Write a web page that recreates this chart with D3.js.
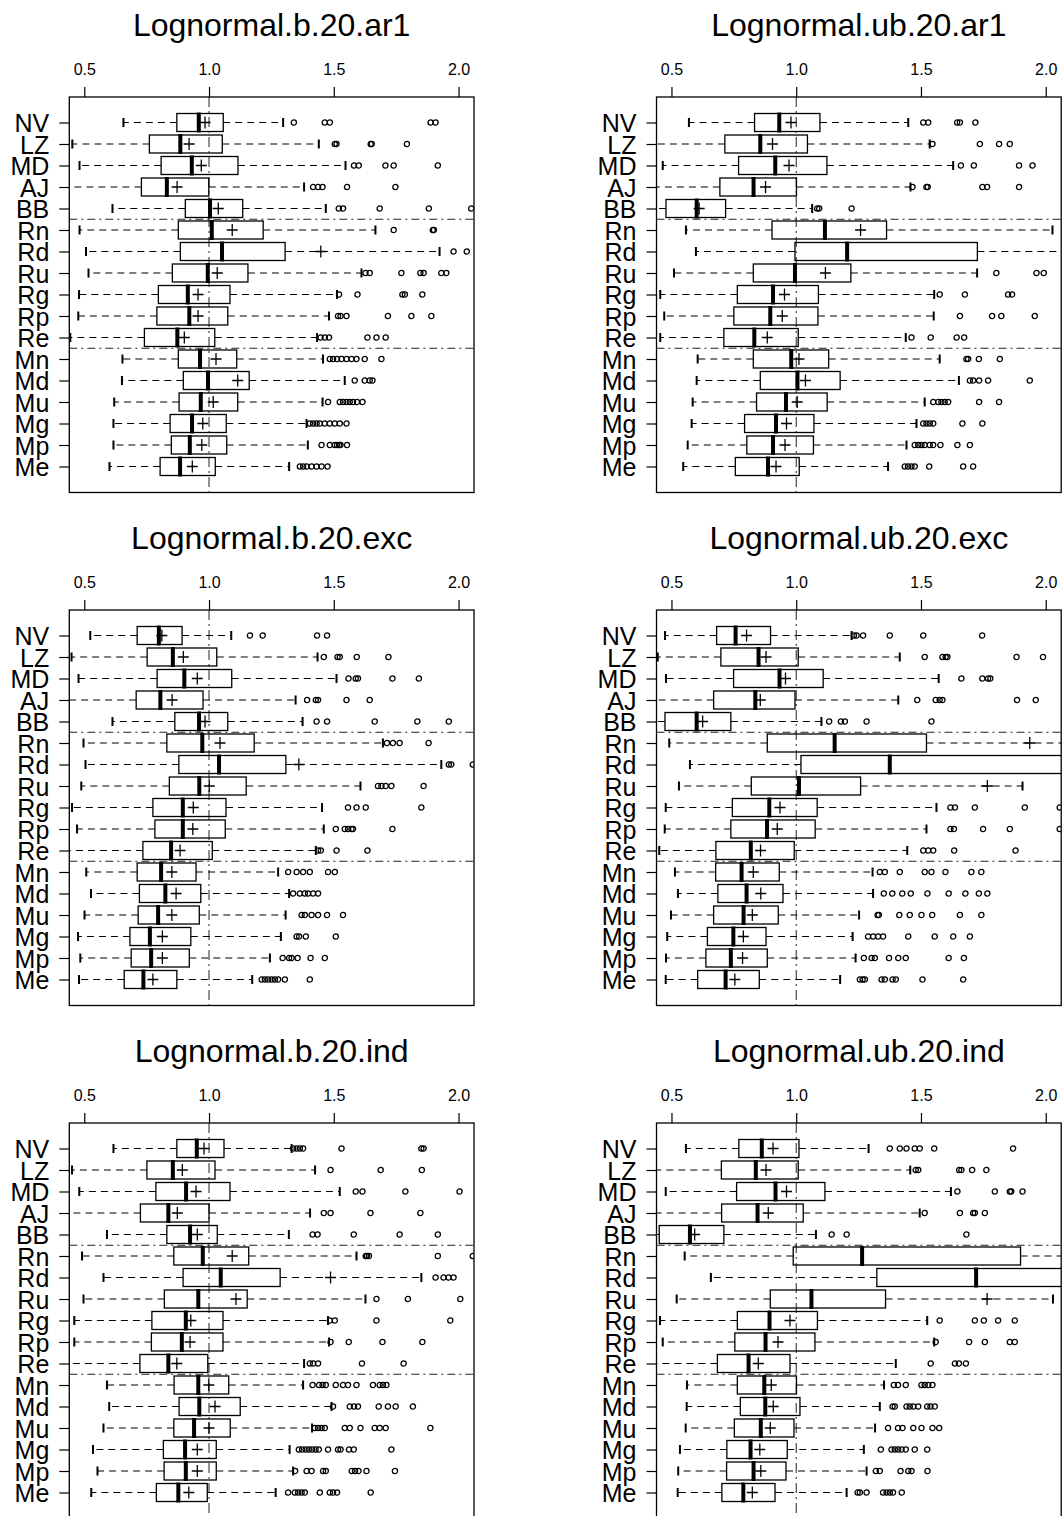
<!DOCTYPE html>
<html>
<head>
<meta charset="utf-8">
<script src="https://cdn.jsdelivr.net/npm/d3@7"></script>
<style>
  body { margin: 0; background: #fff; }
  svg { display: block; }
  text { font-family: "Liberation Sans", Arial, Helvetica, sans-serif; fill: #000; }
</style>
</head>
<body>
<svg id="chart" width="1064" height="1516"></svg>
<script>
// ---- categories and axis ticks ----
const categories = ["NV","LZ","MD","AJ","BB","Rn","Rd","Ru","Rg","Rp","Re","Mn","Md","Mu","Mg","Mp","Me"];
const tickValues = [0.5, 1.0, 1.5, 2.0];
const tickLabels = ["0.5", "1.0", "1.5", "2.0"];
const panelTitles = ["Lognormal.b.20.ar1","Lognormal.ub.20.ar1","Lognormal.b.20.exc","Lognormal.ub.20.exc","Lognormal.b.20.ind","Lognormal.ub.20.ind"];

// ---- Lognormal.b.20.ar1 ----
const bAr1Lower  = [0.657,0.452,0.481,0.43,0.613,0.481,0.507,0.517,0.479,0.476,0.444,0.653,0.651,0.62,0.617,0.617,0.601];
const bAr1Q1     = [0.871,0.761,0.808,0.729,0.905,0.877,0.885,0.853,0.797,0.791,0.741,0.877,0.897,0.88,0.844,0.849,0.804];
const bAr1Median = [0.959,0.885,0.931,0.831,1.004,1.011,1.052,0.995,0.915,0.921,0.873,0.964,0.996,0.967,0.932,0.923,0.884];
const bAr1Q3     = [1.057,1.053,1.116,0.999,1.135,1.217,1.305,1.156,1.084,1.075,1.023,1.111,1.161,1.115,1.069,1.071,1.025];
const bAr1Upper  = [1.297,1.44,1.547,1.381,1.468,1.667,1.924,1.611,1.513,1.481,1.433,1.457,1.544,1.455,1.391,1.396,1.321];
const bAr1Mean   = [0.984,0.92,0.969,0.872,1.037,1.093,1.448,1.033,0.956,0.956,0.901,1.028,1.115,1.017,0.975,0.971,0.933];
const bAr1Outliers = [
  [1.34,1.464,1.484,1.888,1.908],
  [1.504,1.511,1.648,1.652,1.793],
  [1.581,1.6,1.707,1.74,1.917],
  [1.417,1.437,1.455,1.553,1.747],
  [1.52,1.537,1.684,1.881,2.051],
  [1.74,1.897,1.901],
  [1.98,2.033],
  [1.627,1.644,1.771,1.847,1.86,1.931,1.951],
  [1.521,1.595,1.775,1.785,1.855],
  [1.517,1.527,1.551,1.717,1.811,1.891],
  [1.447,1.464,1.481,1.635,1.671,1.708],
  [1.484,1.497,1.513,1.531,1.551,1.571,1.591,1.624,1.691],
  [1.584,1.624,1.644,1.655],
  [1.477,1.524,1.537,1.551,1.564,1.577,1.593,1.615],
  [1.404,1.417,1.431,1.444,1.464,1.484,1.504,1.524,1.551],
  [1.451,1.484,1.504,1.513,1.521,1.527,1.553],
  [1.364,1.377,1.391,1.411,1.431,1.451,1.475]
];

// ---- Lognormal.ub.20.ar1 ----
const ubAr1Lower  = [0.57,0.43,0.465,0.43,0.43,0.558,0.598,0.51,0.455,0.471,0.455,0.605,0.601,0.585,0.581,0.565,0.547];
const ubAr1Q1     = [0.833,0.714,0.769,0.694,0.478,0.903,0.995,0.828,0.764,0.75,0.71,0.828,0.856,0.841,0.793,0.802,0.756];
const ubAr1Median = [0.932,0.856,0.916,0.829,0.601,1.115,1.204,0.995,0.907,0.896,0.832,0.98,1.005,0.959,0.919,0.907,0.887];
const ubAr1Q3     = [1.095,1.045,1.123,1.001,0.717,1.362,1.726,1.219,1.089,1.087,1.008,1.13,1.176,1.124,1.071,1.069,1.012];
const ubAr1Upper  = [1.449,1.535,1.629,1.458,1.064,2.027,2.6,1.725,1.553,1.551,1.439,1.575,1.652,1.515,1.482,1.442,1.368];
const ubAr1Mean   = [0.979,0.905,0.971,0.877,0.611,1.258,2.12,1.117,0.953,0.944,0.884,1.011,1.037,1.004,0.961,0.955,0.919];
const ubAr1Outliers = [
  [1.509,1.529,1.645,1.656,1.718],
  [1.546,1.736,1.813,1.856],
  [1.66,1.712,1.893,1.947],
  [1.466,1.522,1.527,1.746,1.765,1.893],
  [1.084,1.092,1.222],
  [],
  [],
  [1.802,1.963,1.992],
  [1.575,1.676,1.849,1.865],
  [1.656,1.785,1.822,1.956],
  [1.462,1.539,1.643,1.673],
  [1.682,1.689,1.732,1.816],
  [1.696,1.709,1.733,1.769,1.936],
  [1.549,1.569,1.582,1.595,1.609,1.733,1.813],
  [1.509,1.522,1.535,1.549,1.666,1.746],
  [1.475,1.489,1.502,1.515,1.535,1.549,1.578,1.646,1.696],
  [1.435,1.448,1.462,1.475,1.533,1.669,1.709]
];

// ---- Lognormal.b.20.exc ----
const bExcLower  = [0.524,0.449,0.477,0.43,0.613,0.497,0.505,0.488,0.451,0.471,0.43,0.508,0.527,0.501,0.475,0.484,0.479];
const bExcQ1     = [0.712,0.752,0.792,0.708,0.863,0.831,0.879,0.841,0.775,0.783,0.735,0.712,0.721,0.716,0.683,0.688,0.66];
const bExcMedian = [0.799,0.855,0.901,0.805,0.96,0.973,1.04,0.961,0.895,0.895,0.848,0.808,0.825,0.796,0.763,0.768,0.737];
const bExcQ3     = [0.892,1.031,1.091,0.976,1.075,1.181,1.308,1.149,1.068,1.065,1.013,0.948,0.967,0.961,0.927,0.921,0.871];
const bExcUpper  = [1.089,1.435,1.511,1.347,1.375,1.697,1.931,1.607,1.453,1.46,1.428,1.277,1.321,1.307,1.288,1.244,1.173];
const bExcMean   = [0.811,0.897,0.953,0.852,0.984,1.044,1.36,1.001,0.937,0.935,0.884,0.851,0.868,0.851,0.813,0.813,0.775];
const bExcOutliers = [
  [1.164,1.215,1.433,1.473],
  [1.46,1.515,1.524,1.592,1.719],
  [1.559,1.588,1.597,1.735,1.841],
  [1.393,1.428,1.437,1.551,1.644],
  [1.431,1.473,1.664,1.835,1.961],
  [1.713,1.737,1.764,1.88],
  [1.961,1.971,2.057],
  [1.677,1.691,1.708,1.731,1.86],
  [1.557,1.591,1.628,1.851],
  [1.508,1.544,1.557,1.571,1.577,1.735],
  [1.437,1.448,1.511,1.635],
  [1.317,1.351,1.377,1.404,1.477,1.504],
  [1.337,1.364,1.384,1.397,1.417,1.437],
  [1.371,1.384,1.411,1.437,1.473,1.537],
  [1.351,1.361,1.388,1.508],
  [1.295,1.321,1.331,1.355,1.407,1.464],
  [1.211,1.224,1.237,1.251,1.264,1.277,1.304,1.404]
];

// ---- Lognormal.ub.20.exc ----
const ubExcLower  = [0.474,0.445,0.478,0.43,0.43,0.491,0.574,0.53,0.477,0.473,0.451,0.514,0.526,0.498,0.483,0.478,0.477];
const ubExcQ1     = [0.681,0.698,0.749,0.669,0.474,0.884,1.019,0.82,0.744,0.738,0.678,0.677,0.686,0.669,0.644,0.638,0.605];
const ubExcMedian = [0.757,0.849,0.933,0.836,0.601,1.154,1.375,1.011,0.892,0.883,0.818,0.781,0.801,0.789,0.748,0.738,0.717];
const ubExcQ3     = [0.897,1.008,1.108,0.995,0.738,1.522,2.2,1.258,1.084,1.076,0.992,0.932,0.947,0.928,0.879,0.884,0.852];
const ubExcUpper  = [1.222,1.415,1.571,1.409,1.101,2.4,3.0,1.907,1.562,1.522,1.445,1.306,1.308,1.252,1.226,1.238,1.176];
const ubExcMean   = [0.801,0.879,0.957,0.856,0.625,1.936,2.3,1.766,0.935,0.924,0.857,0.828,0.858,0.824,0.788,0.785,0.754];
const ubExcOutliers = [
  [1.231,1.242,1.268,1.375,1.509,1.745],
  [1.515,1.586,1.599,1.606,1.883,1.989],
  [1.662,1.746,1.769,1.778],
  [1.485,1.559,1.575,1.586,1.885,1.96],
  [1.132,1.179,1.195,1.282,1.542],
  [],
  [],
  [],
  [1.618,1.636,1.716,1.916,2.056],
  [1.618,1.632,1.749,1.856,2.056],
  [1.509,1.529,1.549,1.633,1.879],
  [1.335,1.355,1.415,1.515,1.542,1.598,1.702,1.742],
  [1.351,1.385,1.425,1.459,1.526,1.611,1.678,1.732,1.766],
  [1.326,1.331,1.413,1.455,1.502,1.545,1.656,1.742],
  [1.288,1.308,1.328,1.348,1.449,1.555,1.629,1.696],
  [1.271,1.302,1.315,1.372,1.409,1.439,1.611,1.672],
  [1.255,1.266,1.275,1.342,1.355,1.386,1.399,1.506,1.669]
];

// ---- Lognormal.b.20.ind ----
const bIndLower  = [0.617,0.451,0.48,0.43,0.591,0.491,0.577,0.497,0.46,0.46,0.43,0.591,0.6,0.577,0.535,0.553,0.528];
const bIndQ1     = [0.871,0.751,0.787,0.725,0.831,0.859,0.896,0.821,0.771,0.769,0.723,0.86,0.88,0.859,0.817,0.82,0.789];
const bIndMedian = [0.951,0.855,0.908,0.837,0.924,0.975,1.047,0.957,0.907,0.891,0.837,0.957,0.961,0.94,0.904,0.907,0.877];
const bIndQ3     = [1.06,1.024,1.084,1.0,1.033,1.159,1.285,1.153,1.056,1.056,0.995,1.079,1.125,1.085,1.029,1.029,0.993];
const bIndUpper  = [1.331,1.425,1.524,1.405,1.32,1.591,1.851,1.627,1.477,1.481,1.381,1.377,1.491,1.413,1.323,1.337,1.267];
const bIndMean   = [0.98,0.893,0.948,0.873,0.953,1.093,1.487,1.108,0.927,0.924,0.871,0.999,1.024,1.0,0.953,0.953,0.919];
const bIndOutliers = [
  [1.337,1.351,1.364,1.377,1.531,1.851,1.86],
  [1.487,1.688,1.853],
  [1.588,1.615,1.787,2.004],
  [1.46,1.487,1.647,1.847],
  [1.415,1.435,1.58,1.764,1.917],
  [1.628,1.633,1.641,1.917,2.057],
  [1.908,1.94,1.96,1.98],
  [1.671,1.797,2.007],
  [1.484,1.504,1.671,1.967],
  [1.487,1.56,1.695,1.855],
  [1.404,1.417,1.437,1.613,1.78],
  [1.415,1.441,1.455,1.468,1.508,1.537,1.557,1.591,1.657,1.684,1.697,1.711],
  [1.497,1.564,1.581,1.597,1.68,1.717,1.748,1.817],
  [1.424,1.437,1.451,1.464,1.544,1.564,1.607,1.664,1.684,1.708,1.887],
  [1.36,1.373,1.387,1.4,1.413,1.427,1.44,1.477,1.517,1.527,1.561,1.58,1.731],
  [1.345,1.391,1.411,1.457,1.468,1.572,1.585,1.599,1.631,1.745],
  [1.317,1.344,1.357,1.371,1.384,1.444,1.484,1.497,1.513,1.648]
];

// ---- Lognormal.ub.20.ind ----
const ubIndLower  = [0.558,0.43,0.477,0.43,0.43,0.553,0.658,0.521,0.454,0.465,0.43,0.562,0.561,0.557,0.534,0.527,0.525];
const ubIndQ1     = [0.77,0.7,0.761,0.701,0.451,0.988,1.323,0.896,0.764,0.754,0.684,0.764,0.776,0.752,0.722,0.721,0.702];
const ubIndMedian = [0.862,0.838,0.917,0.845,0.574,1.264,1.721,1.061,0.893,0.877,0.809,0.872,0.876,0.858,0.817,0.829,0.788];
const ubIndQ3     = [1.011,1.008,1.115,1.028,0.71,1.899,2.3,1.358,1.085,1.075,0.975,1.001,1.015,0.991,0.964,0.959,0.915];
const ubIndUpper  = [1.29,1.457,1.62,1.495,1.079,2.8,3.2,2.029,1.525,1.553,1.399,1.352,1.335,1.316,1.271,1.282,1.202];
const ubIndMean   = [0.907,0.879,0.961,0.888,0.593,2.25,2.6,1.765,0.975,0.927,0.848,0.9,0.908,0.896,0.854,0.858,0.824];
const ubIndOutliers = [
  [1.375,1.415,1.442,1.475,1.495,1.553,1.869],
  [1.479,1.489,1.653,1.662,1.705,1.762],
  [1.646,1.796,1.856,1.862,1.907],
  [1.515,1.656,1.709,1.716,1.756],
  [1.142,1.202,1.682],
  [],
  [],
  [],
  [1.575,1.716,1.752,1.809,1.876],
  [1.559,1.693,1.756,1.856,1.876],
  [1.539,1.636,1.652,1.68],
  [1.391,1.408,1.439,1.502,1.515,1.529,1.546],
  [1.386,1.395,1.442,1.455,1.469,1.489,1.525,1.538,1.555],
  [1.368,1.408,1.426,1.469,1.502,1.546,1.573],
  [1.339,1.382,1.395,1.408,1.422,1.439,1.475,1.525],
  [1.319,1.335,1.418,1.449,1.462,1.526],
  [1.246,1.255,1.282,1.348,1.362,1.375,1.388,1.423]
];

// ---- panel list (read row by row, two panels per row) ----
const panels = [
  { lower: bAr1Lower,  q1: bAr1Q1,  median: bAr1Median,  q3: bAr1Q3,  upper: bAr1Upper,  mean: bAr1Mean,  outliers: bAr1Outliers },
  { lower: ubAr1Lower, q1: ubAr1Q1, median: ubAr1Median, q3: ubAr1Q3, upper: ubAr1Upper, mean: ubAr1Mean, outliers: ubAr1Outliers },
  { lower: bExcLower,  q1: bExcQ1,  median: bExcMedian,  q3: bExcQ3,  upper: bExcUpper,  mean: bExcMean,  outliers: bExcOutliers },
  { lower: ubExcLower, q1: ubExcQ1, median: ubExcMedian, q3: ubExcQ3, upper: ubExcUpper, mean: ubExcMean, outliers: ubExcOutliers },
  { lower: bIndLower,  q1: bIndQ1,  median: bIndMedian,  q3: bIndQ3,  upper: bIndUpper,  mean: bIndMean,  outliers: bIndOutliers },
  { lower: ubIndLower, q1: ubIndQ1, median: ubIndMedian, q3: ubIndQ3, upper: ubIndUpper, mean: ubIndMean, outliers: ubIndOutliers }
];

// ---- layout ----
const colX = [69.3, 656.5];
const rowY = [97, 610, 1123];
const panelW = 404.7;
const panelH = 395.5;
const xDomain = [0.44, 2.062];
const rowPad = 25.5;
const rowStep = 21.5;
const boxHalf = 9;

const svg = d3.select("#chart");

panels.forEach((p, pi) => {
  const col = pi % 2, row = Math.floor(pi / 2);
  const g = svg.append("g").attr("transform", `translate(${colX[col]},${rowY[row]})`);

  const x = d3.scaleLinear().domain(xDomain).range([0, panelW]);
  const y = d3.scalePoint().domain(categories)
    .range([rowPad, rowPad + rowStep * (categories.length - 1)]);

  // clip region for the plotting area
  const clipId = `clip-${pi}`;
  g.append("clipPath").attr("id", clipId)
    .append("rect").attr("x", 0).attr("y", 0).attr("width", panelW).attr("height", panelH);

  // title
  g.append("text")
    .attr("x", panelW / 2).attr("y", -61)
    .attr("text-anchor", "middle")
    .style("font-size", "32px")
    .text(panelTitles[pi]);

  // top axis
  const xAxis = d3.axisTop(x)
    .tickValues(tickValues)
    .tickFormat((d, i) => tickLabels[i])
    .tickSize(10).tickPadding(12.3);
  const ax = g.append("g").call(xAxis);
  ax.select(".domain").remove();
  ax.selectAll(".tick line").attr("stroke", "#000").attr("stroke-width", 1.2);
  ax.selectAll(".tick text").style("font-size", "16px").attr("font-family", null).attr("fill", "#000");

  // left axis with category labels
  const yAxis = d3.axisLeft(y).tickSize(10).tickPadding(10);
  const ay = g.append("g").call(yAxis);
  ay.select(".domain").remove();
  ay.selectAll(".tick line").attr("stroke", "#000").attr("stroke-width", 1.2);
  ay.selectAll(".tick text").style("font-size", "25px").attr("dy", "0.36em")
    .attr("font-family", null).attr("fill", "#000");

  const plot = g.append("g").attr("clip-path", `url(#${clipId})`);

  // reference line at 1.0
  plot.append("line")
    .attr("x1", x(1)).attr("x2", x(1)).attr("y1", 0).attr("y2", panelH)
    .attr("stroke", "#222").attr("stroke-width", 1)
    .attr("stroke-dasharray", "10,4,2,4");

  // group separators
  [[4, 5], [10, 11]].forEach(([a, b]) => {
    const yy = (y(categories[a]) + y(categories[b])) / 2;
    plot.append("line")
      .attr("x1", 0).attr("x2", panelW).attr("y1", yy).attr("y2", yy)
      .attr("stroke", "#222").attr("stroke-width", 1)
      .attr("stroke-dasharray", "8,4,2,4");
  });

  const rows = categories.map((c, i) => ({
    cat: c, lo: p.lower[i], q1: p.q1[i], med: p.median[i], q3: p.q3[i],
    hi: p.upper[i], mean: p.mean[i], out: p.outliers[i]
  }));

  const bx = plot.selectAll("g.bx").data(rows).join("g")
    .attr("class", "bx")
    .attr("transform", d => `translate(0,${y(d.cat)})`);

  // whiskers
  bx.append("line")
    .attr("x1", d => x(d.q1)).attr("x2", d => x(d.lo)).attr("y1", 0).attr("y2", 0)
    .attr("stroke", "#000").attr("stroke-width", 1.2).attr("stroke-dasharray", "7,5");
  bx.append("line")
    .attr("x1", d => x(d.q3)).attr("x2", d => x(d.hi)).attr("y1", 0).attr("y2", 0)
    .attr("stroke", "#000").attr("stroke-width", 1.2).attr("stroke-dasharray", "7,5");
  // whisker ends
  bx.append("line")
    .attr("x1", d => x(d.lo)).attr("x2", d => x(d.lo)).attr("y1", -4.5).attr("y2", 4.5)
    .attr("stroke", "#000").attr("stroke-width", 2);
  bx.append("line")
    .attr("x1", d => x(d.hi)).attr("x2", d => x(d.hi)).attr("y1", -4.5).attr("y2", 4.5)
    .attr("stroke", "#000").attr("stroke-width", 2);

  // box
  bx.append("rect")
    .attr("x", d => x(d.q1)).attr("width", d => x(d.q3) - x(d.q1))
    .attr("y", -boxHalf).attr("height", boxHalf * 2)
    .attr("fill", "none").attr("stroke", "#000").attr("stroke-width", 1.3);

  // median bar
  bx.append("rect")
    .attr("x", d => x(d.med) - 2).attr("width", 4)
    .attr("y", -boxHalf - 1).attr("height", boxHalf * 2 + 2)
    .attr("fill", "#000");

  // mean marker
  bx.append("path")
    .attr("d", d => `M${x(d.mean) - 5.5},0H${x(d.mean) + 5.5}M${x(d.mean)},-6V6`)
    .attr("stroke", "#000").attr("stroke-width", 1.3).attr("fill", "none");

  // outliers
  bx.selectAll("circle").data(d => d.out).join("circle")
    .attr("cx", v => x(v)).attr("cy", 0).attr("r", 2.6)
    .attr("fill", "none").attr("stroke", "#000").attr("stroke-width", 1.3);

  // panel frame
  g.append("rect")
    .attr("x", 0).attr("y", 0).attr("width", panelW).attr("height", panelH)
    .attr("fill", "none").attr("stroke", "#000").attr("stroke-width", 1.3);
});
</script>
</body>
</html>
